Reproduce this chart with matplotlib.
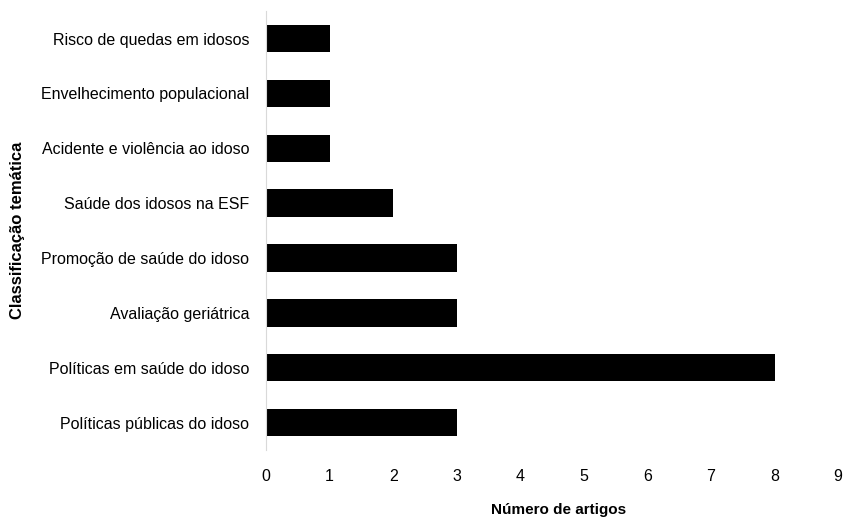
import matplotlib.pyplot as plt

categorias = [
    'Políticas públicas do idoso',
    'Políticas em saúde do idoso',
    'Avaliação geriátrica',
    'Promoção de saúde do idoso',
    'Saúde dos idosos na ESF',
    'Acidente e violência ao idoso',
    'Envelhecimento populacional',
    'Risco de quedas em idosos',
]
num_artigos = [3, 8, 3, 3, 2, 1, 1, 1]
xticks = list(range(0, 10))

plt.rcParams['font.family'] = ['Liberation Sans', 'DejaVu Sans']

fig = plt.figure(figsize=(8.45, 5.2), dpi=100)
ax = fig.add_axes([0.3148, 0.1346, 0.677, 0.844])

ax.barh(range(len(categorias)), num_artigos, height=0.5, color='black')
ax.set_yticks(range(len(categorias)))
ax.set_yticklabels(categorias, fontsize=11.5)
ax.set_xticks(xticks)
ax.set_xticklabels([str(x) for x in xticks], fontsize=11.5)
ax.set_xlim(0, 9)
ax.set_ylim(-0.5, len(categorias) - 0.5)

for s in ['top', 'right', 'bottom']:
    ax.spines[s].set_visible(False)
ax.spines['left'].set_color('#d9d9d9')
ax.tick_params(axis='both', length=0)
ax.tick_params(axis='y', pad=12)
ax.tick_params(axis='x', pad=14)

# rotulos dos eixos
ax.set_xlabel('Número de artigos', fontsize=11, fontweight='bold')
ax.xaxis.set_label_coords(0.512, -0.121)
ax.set_ylabel('Classificação temática', fontsize=12, fontweight='bold')
ax.yaxis.set_label_coords(-0.421, 0.5)

fig.savefig('out.png', dpi=100)
